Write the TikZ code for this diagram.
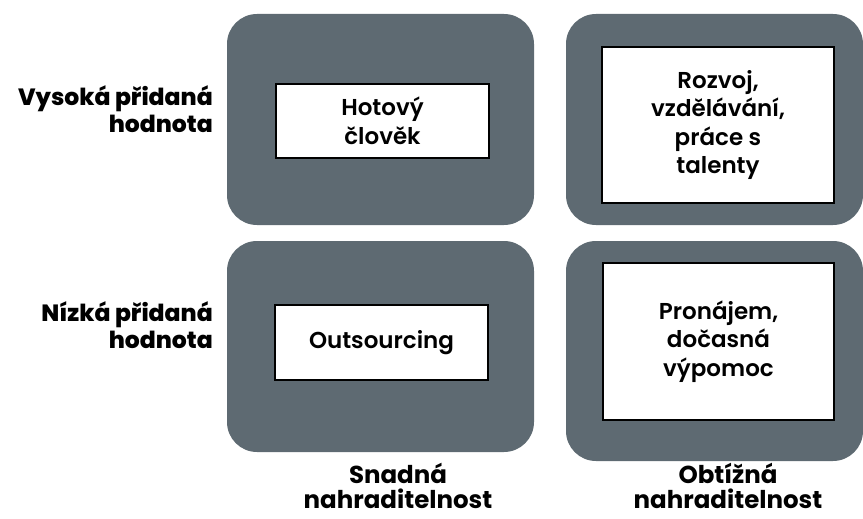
\documentclass[tikz,border=0pt]{standalone}
\usepackage{fontspec}
\setmainfont{Poppins}
\newfontfamily\cellfont{Poppins SemiBold}
\newfontfamily\axisfont{Poppins Bold}
\newfontfamily\rowfont{Poppins ExtraBold}
\definecolor{slate}{RGB}{94,106,114}
\tikzset{
  quad/.style={fill=slate, rounded corners=30pt, inner sep=0pt, outer sep=0pt},
  cell/.style={draw=black, fill=white, line width=1.5pt, align=center, inner sep=0pt,
    font=\cellfont\fontsize{23}{28.5}\selectfont},
  rowlab/.style={anchor=base east, align=right, inner sep=0pt,
    font=\rowfont\fontsize{23.5}{27}\selectfont},
  collab/.style={anchor=base, align=center, inner sep=0pt,
    font=\axisfont\fontsize{24.5}{24.5}\selectfont}
}
\begin{document}
\begin{tikzpicture}[x=1pt,y=-1pt]
    \useasboundingbox (0,0) rectangle (863,519);
    \node[quad, minimum width=307pt, minimum height=211pt] (hiEasy) at (380.5,119.5) {};
    \node[quad, minimum width=297pt, minimum height=211pt] (hiHard) at (714.5,119.5) {};
    \node[quad, minimum width=307pt, minimum height=211pt] (loEasy) at (380.5,346.5) {};
    \node[quad, minimum width=297pt, minimum height=220pt] (loHard) at (714.5,351) {};
    \node[cell, minimum width=213pt, minimum height=74pt] (hotovy) at (382.5,121) {Hotový\\člověk};
    \node[cell, minimum width=232pt, minimum height=156pt] (rozvoj) at (718,125) {Rozvoj,\\vzdělávání,\\práce s\\talenty};
    \node[cell, minimum width=213pt, minimum height=75pt] (outsrc) at (381.5,342.5) {Outsourcing};
    \node[cell, minimum width=231pt, minimum height=157pt] (pronajem) at (718.5,341.5) {Pronájem,\\dočasná\\výpomoc};
    \node[rowlab] (hiVal) at (213,132) {Vysoká přidaná\\hodnota};
    \node[rowlab] (loVal) at (213,348) {Nízká přidaná\\hodnota};
    \node[collab] (easy) at (398,508) {Snadná\\nahraditelnost};
    \node[collab] (hard) at (728,508) {Obtížná\\nahraditelnost};
\end{tikzpicture}
\end{document}
